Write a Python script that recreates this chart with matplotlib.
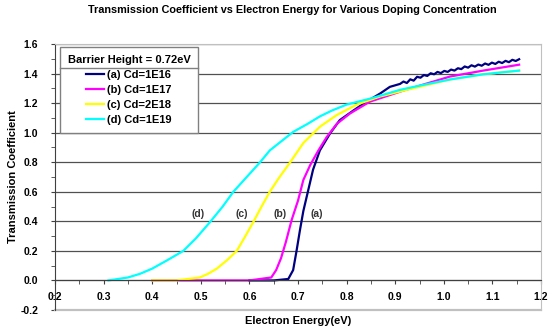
import matplotlib
matplotlib.use('Agg')
import matplotlib.pyplot as plt
from matplotlib.ticker import MultipleLocator, FormatStrFormatter
from matplotlib.lines import Line2D

plt.rcParams['font.family'] = ['Liberation Sans', 'DejaVu Sans']
plt.rcParams['font.weight'] = 'bold'

# Curve data (energy in eV, transmission coefficient)
a_x = [0.60, 0.65, 0.68, 0.69, 0.697, 0.704, 0.711, 0.721, 0.731, 0.745, 0.766, 0.786,
       0.814, 0.841, 0.869, 0.889, 0.91,
       0.917, 0.924, 0.931, 0.938, 0.945, 0.952, 0.959, 0.966, 0.973, 0.980, 0.987, 0.994,
       1.001, 1.008, 1.015, 1.022, 1.029, 1.036, 1.043, 1.050, 1.057, 1.064, 1.071, 1.078,
       1.085, 1.092, 1.099, 1.106, 1.113, 1.120, 1.127, 1.134, 1.141, 1.148, 1.155]
a_y = [0.0, 0.0, 0.01, 0.07, 0.20, 0.34, 0.47, 0.61, 0.75, 0.88, 0.995, 1.085,
       1.15, 1.21, 1.265, 1.31, 1.33,
       1.346, 1.336, 1.361, 1.352, 1.378, 1.372, 1.390, 1.384, 1.402, 1.395, 1.411, 1.403,
       1.418, 1.411, 1.427, 1.420, 1.436, 1.430, 1.448, 1.440, 1.456, 1.447, 1.461, 1.453,
       1.468, 1.459, 1.474, 1.465, 1.480, 1.471, 1.486, 1.477, 1.493, 1.485, 1.497]

b_x = [0.40, 0.50, 0.60, 0.622, 0.645, 0.655, 0.665, 0.675, 0.687, 0.70, 0.711, 0.725,
       0.742, 0.759, 0.78, 0.807, 0.848, 0.917, 1.013, 1.081, 1.155]
b_y = [0.0, 0.0, 0.0, 0.01, 0.02, 0.07, 0.15, 0.26, 0.41, 0.54, 0.68, 0.78,
       0.88, 0.97, 1.06, 1.13, 1.21, 1.285, 1.38, 1.42, 1.46]

c_x = [0.40, 0.45, 0.498, 0.515, 0.533, 0.555, 0.574, 0.59, 0.608, 0.625, 0.642, 0.66,
       0.684, 0.711, 0.745, 0.78, 0.821, 0.869, 0.924, 1.013, 1.081, 1.155]
c_y = [0.0, 0.0, 0.02, 0.045, 0.08, 0.14, 0.2, 0.29, 0.395, 0.50, 0.6, 0.69,
       0.8, 0.93, 1.04, 1.12, 1.19, 1.245, 1.29, 1.36, 1.395, 1.42]

d_x = [0.31, 0.35, 0.375, 0.40, 0.43, 0.464, 0.49, 0.519, 0.545, 0.567, 0.60, 0.622,
       0.642, 0.665, 0.69, 0.72, 0.745, 0.77, 0.80, 0.848, 0.91, 0.96, 1.013, 1.081, 1.155]
d_y = [0.0, 0.02, 0.045, 0.08, 0.135, 0.2, 0.285, 0.395, 0.50, 0.6, 0.72, 0.80,
       0.88, 0.94, 1.005, 1.06, 1.11, 1.15, 1.19, 1.23, 1.29, 1.325, 1.36, 1.395, 1.42]

series_labels = ['(a) Cd=1E16', '(b) Cd=1E17', '(c) Cd=2E18', '(d) Cd=1E19']
series_colors = ['#000080', '#ff00ff', '#ffff00', '#00ffff']
curve_tags = ['(a)', '(b)', '(c)', '(d)']
tag_x = [0.738, 0.664, 0.585, 0.494]
tag_y = 0.45

fig = plt.figure(figsize=(5.51, 3.27), dpi=100)
ax = fig.add_axes([55 / 551, 17 / 327, 486 / 551, 266 / 327])

for xs, ys, col, lab in zip([a_x, b_x, c_x, d_x], [a_y, b_y, c_y, d_y],
                            series_colors, series_labels):
    ax.plot(xs, ys, color=col, lw=1.6, label=lab)

for t, tx in zip(curve_tags, tag_x):
    ax.text(tx, tag_y, t, ha='center', va='center', fontsize=7.5, color='#333333')

ax.set_xlim(0.2, 1.2)
ax.set_ylim(-0.2, 1.6)

# gridlines
ax.yaxis.set_major_locator(MultipleLocator(0.2))
ax.yaxis.set_minor_locator(MultipleLocator(0.1))
ax.yaxis.set_major_formatter(FormatStrFormatter('%.1f'))
ax.xaxis.set_major_locator(MultipleLocator(0.1))
ax.xaxis.set_minor_locator(MultipleLocator(0.05))
ax.xaxis.set_major_formatter(FormatStrFormatter('%.1f'))
ax.grid(axis='y', which='major', color='#505050', lw=0.9)
ax.set_axisbelow(True)

# x axis crossing at zero, grey outer frame
ax.spines['bottom'].set_position(('data', 0))
ax.spines['bottom'].set_color('#404040')
ax.spines['left'].set_color('#404040')
for s in ['top', 'right']:
    ax.spines[s].set_color('#c0c0c0')
ax.axhline(-0.2, color='#c0c0c0', lw=1.6, clip_on=False)

ax.tick_params(axis='both', which='both', direction='out', length=3, color='#404040',
               labelsize=7.5)
ax.tick_params(axis='y', pad=9)
ax.tick_params(axis='x', pad=5)

fig.suptitle('Transmission Coefficient vs Electron Energy for Various Doping Concentration',
             x=0.53, y=0.985, fontsize=7.8, fontweight='bold')
fig.text(0.541, 0.004, 'Electron Energy(eV)', ha='center', va='bottom', fontsize=8,
         fontweight='bold')
fig.text(13 / 551, 1 - 177 / 327, 'Transmission Coefficient', rotation=90,
         ha='center', va='center', fontsize=8, fontweight='bold')

leg = ax.legend(loc='upper left', bbox_to_anchor=(5 / 486, 263 / 266),
                title='Barrier Height = 0.72eV', fontsize=8, title_fontsize=8,
                frameon=True, fancybox=False, edgecolor='#808080', framealpha=1,
                handlelength=1.6, handletextpad=0.3, labelspacing=0.45,
                borderpad=0.7, borderaxespad=0)
leg.get_title().set_fontweight('bold')
leg.get_frame().set_linewidth(1.0)

# separator under legend title
fig.canvas.draw()
lb = leg.get_window_extent()
tb = leg.get_title().get_window_extent()
ysep = (tb.y0 - 3) / fig.bbox.height
fig.add_artist(Line2D([lb.x0 / fig.bbox.width, lb.x1 / fig.bbox.width], [ysep, ysep],
                      color='#808080', lw=1.0))

fig.savefig('out.png', dpi=100)
